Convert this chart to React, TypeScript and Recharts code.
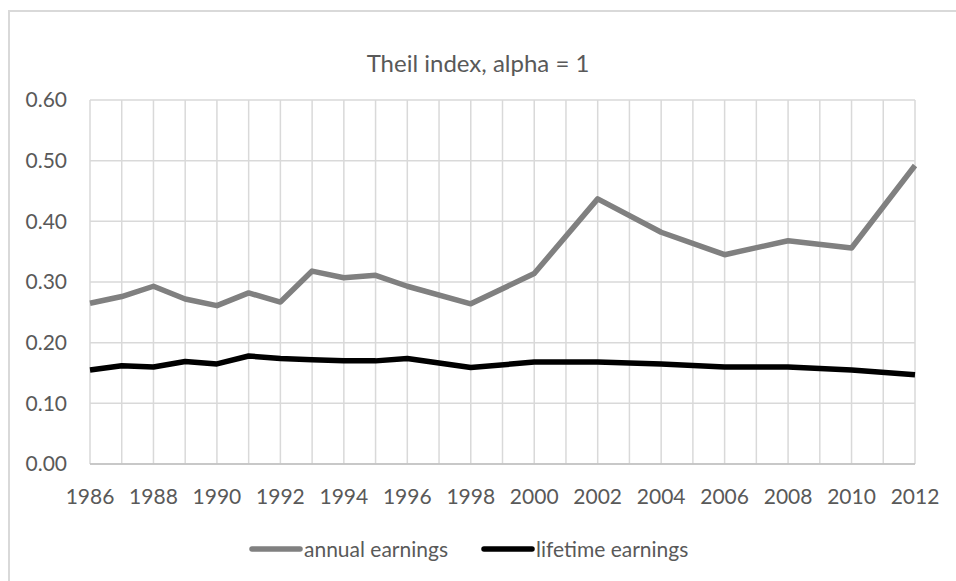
import React from "react";
import { LineChart, Line, XAxis, YAxis, CartesianGrid } from "recharts";

const years = [1986, 1987, 1988, 1989, 1990, 1991, 1992, 1993, 1994, 1995, 1996, 1998, 2000, 2002, 2004, 2006, 2008, 2010, 2012];
const annualEarnings = [0.265, 0.276, 0.293, 0.272, 0.261, 0.282, 0.267, 0.318, 0.307, 0.311, 0.293, 0.264, 0.314, 0.437, 0.382, 0.345, 0.368, 0.356, 0.492];
const lifetimeEarnings = [0.155, 0.162, 0.16, 0.169, 0.165, 0.178, 0.174, 0.172, 0.17, 0.17, 0.174, 0.159, 0.168, 0.168, 0.165, 0.16, 0.16, 0.155, 0.147];

const gridYears = [1986, 1987, 1988, 1989, 1990, 1991, 1992, 1993, 1994, 1995, 1996, 1997, 1998, 1999, 2000, 2001, 2002, 2003, 2004, 2005, 2006, 2007, 2008, 2009, 2010, 2011, 2012];
const yTicks = [0, 0.1, 0.2, 0.3, 0.4, 0.5, 0.6];

const data = years.map((year, i) => ({
  year,
  annual: annualEarnings[i],
  lifetime: lifetimeEarnings[i],
}));

const FONT = "Lato, 'Open Sans', sans-serif";
const TEXT = "#595959";

function LegendItem({ color, label, left }: { color: string; label: string; left: number }) {
  return (
    <div style={{ position: "absolute", left, top: 536, display: "flex", alignItems: "center", fontSize: 21, color: TEXT }}>
      <svg width={54} height={10}>
        <line x1={3} y1={5} x2={51} y2={5} stroke={color} strokeWidth={5.5} strokeLinecap="round" />
      </svg>
      <span style={{ marginLeft: 1 }}>{label}</span>
    </div>
  );
}

export default function App() {
  return (
    <div style={{ position: "absolute", left: 0, top: 0, width: 956, height: 581, background: "#fff", overflow: "hidden", fontFamily: FONT }}>
      <div style={{ position: "absolute", left: 8, top: 10, width: 960, height: 590, borderLeft: "2px solid #d9d9d9", borderTop: "2px solid #d9d9d9" }} />
      <div style={{ position: "absolute", left: 0, top: 48, width: 956, textAlign: "center", fontSize: 24, color: TEXT }}>
        Theil index, alpha = 1
      </div>
      <LegendItem color="#808080" label="annual earnings" left={249} />
      <LegendItem color="#000000" label="lifetime earnings" left={481} />
      <div style={{ position: "absolute", left: 0, top: 0 }}>
        <LineChart width={956} height={581} data={data} margin={{ top: 100, right: 41, bottom: 87, left: 0 }}>
          <CartesianGrid stroke="#d9d9d9" strokeWidth={1.5} />
          <XAxis
            dataKey="year"
            type="number"
            domain={[1986, 2012]}
            ticks={gridYears}
            interval={0}
            height={30}
            tickLine={false}
            tickSize={0}
            tickMargin={25}
            axisLine={{ stroke: "#bfbfbf", strokeWidth: 1.5 }}
            tickFormatter={(v: number) => (v % 2 === 0 ? String(v) : "")}
            tick={{ fill: TEXT, fontSize: 21, fontFamily: FONT }}
          />
          <YAxis
            type="number"
            domain={[0, 0.6]}
            ticks={yTicks}
            width={90}
            tickLine={false}
            axisLine={false}
            tickSize={0}
            tickMargin={23}
            tickFormatter={(v: number) => v.toFixed(2)}
            tick={{ fill: TEXT, fontSize: 21, fontFamily: FONT }}
          />
          <Line dataKey="annual" stroke="#808080" strokeWidth={5.5} dot={false} isAnimationActive={false} strokeLinejoin="round" />
          <Line dataKey="lifetime" stroke="#000000" strokeWidth={5.5} dot={false} isAnimationActive={false} strokeLinejoin="round" />
        </LineChart>
      </div>
    </div>
  );
}
